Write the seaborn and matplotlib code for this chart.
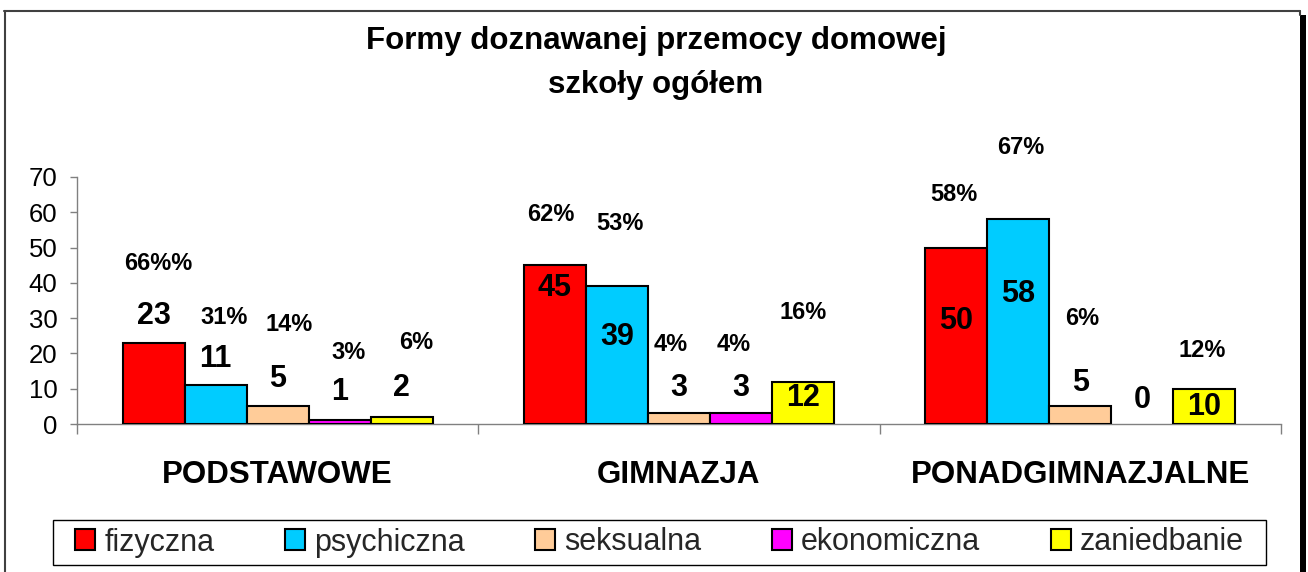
import matplotlib
matplotlib.use("Agg")
import matplotlib.pyplot as plt
from matplotlib.patches import Patch, Rectangle
from matplotlib.lines import Line2D
import seaborn as sns
import pandas as pd

# --- data -------------------------------------------------------------
schools = ["PODSTAWOWE", "GIMNAZJA", "PONADGIMNAZJALNE"]
forms = ["fizyczna", "psychiczna", "seksualna", "ekonomiczna", "zaniedbanie"]

fizyczna = [23, 45, 50]
psychiczna = [11, 39, 58]
seksualna = [5, 3, 5]
ekonomiczna = [1, 3, 0]
zaniedbanie = [2, 12, 10]

pct_fizyczna = ["66%%", "62%", "58%"]
pct_psychiczna = ["31%", "53%", "67%"]
pct_seksualna = ["14%", "4%", "6%"]
pct_ekonomiczna = ["3%", "4%", ""]
pct_zaniedbanie = ["6%", "16%", "12%"]

y_ticks = [0, 10, 20, 30, 40, 50, 60, 70]

title_lines = ["Formy doznawanej przemocy domowej", "szkoły ogółem"]

# --- styling / layout ----------------------------------------------------
colors = ["#FF0000", "#00CCFF", "#FFCC99", "#FF00FF", "#FFFF00"]

# label offsets in pixels relative to the bar top (positive = upwards)
value_dy = [
    [27, -23, -73],
    [26, -51, -75],
    [27, 25, 23],
    [28, 25, 24],
    [29, -16, -18],
]
pct_dy = [
    [79, 51, 53],
    [68, 63, 72],
    [82, 69, 88],
    [68, 69, 0],
    [74, 69, 38],
]
pct_dx = [
    [5, -4, -2],
    [8, 3, 2],
    [11, -8, 2],
    [9, -7, 0],
    [14, 0, -2],
]

series = [fizyczna, psychiczna, seksualna, ekonomiczna, zaniedbanie]
pct_series = [pct_fizyczna, pct_psychiczna, pct_seksualna, pct_ekonomiczna, pct_zaniedbanie]

rows = []
for form, vals in zip(forms, series):
    for school, v in zip(schools, vals):
        rows.append({"szkoła": school, "forma": form, "liczba": v})
df = pd.DataFrame(rows)

sns.set_theme(style="white")
plt.rcParams["font.family"] = ["Liberation Sans", "DejaVu Sans"]

W, H = 1308, 572
fig = plt.figure(figsize=(W / 100, H / 100), dpi=100)
fig.patch.set_facecolor("white")

ax_left, ax_right, ax_top, ax_bottom = 77, 1281, 177, 424
ax = fig.add_axes([ax_left / W, 1 - ax_bottom / H,
                   (ax_right - ax_left) / W, (ax_bottom - ax_top) / H])

sns.barplot(data=df, x="szkoła", y="liczba", hue="forma",
            order=schools, hue_order=forms, palette=colors, saturation=1,
            width=0.773, edgecolor="black", linewidth=1.5,
            legend=False, ax=ax, zorder=3)

ax.set_xlim(-0.5, 2.5)
ax.set_ylim(0, 70)
ax.set_yticks(y_ticks)
ax.set_xlabel("")
ax.set_ylabel("")

for side in ["top", "right"]:
    ax.spines[side].set_visible(False)
for side in ["left", "bottom"]:
    ax.spines[side].set_color("#808080")
    ax.spines[side].set_linewidth(1.0)

ax.tick_params(axis="y", which="major", direction="out", length=5, width=1,
               color="#808080", labelsize=18.5, labelcolor="black", pad=9, left=True)
ax.set_xticks([0, 1, 2])
ax.set_xticklabels(schools, fontsize=22.5, fontweight="bold", color="black")
ax.tick_params(axis="x", which="major", length=0, pad=26)
ax.set_xticks([-0.5, 0.5, 1.5, 2.5], minor=True)
ax.tick_params(axis="x", which="minor", direction="out", length=7, width=1,
               color="#808080", bottom=True)

# bar annotations
for i, cont in enumerate(ax.containers):
    for j, bar in enumerate(cont.patches):
        h = bar.get_height()
        if h == 0:
            bar.set_linewidth(0)
        cx = bar.get_x() + bar.get_width() / 2
        ax.annotate(f"{series[i][j]}", xy=(cx, h), xytext=(0, value_dy[i][j]),
                    textcoords="offset pixels", ha="center", va="center",
                    fontsize=22, fontweight="bold", color="black", zorder=5)
        if pct_series[i][j]:
            ax.annotate(pct_series[i][j], xy=(cx, h),
                        xytext=(pct_dx[i][j], pct_dy[i][j]),
                        textcoords="offset pixels", ha="center", va="center",
                        fontsize=17, fontweight="bold", color="black",
                        annotation_clip=False, zorder=5)

# title
fig.text(656 / W, 1 - 49 / H, title_lines[0], ha="center", va="baseline",
         fontsize=22.5, fontweight="bold", color="black")
fig.text(656 / W, 1 - 93 / H, title_lines[1], ha="center", va="baseline",
         fontsize=22.5, fontweight="bold", color="black")

# legend with a framed box
box_l, box_r, box_t, box_b = 53, 1266, 520, 565
fig.add_artist(Rectangle((box_l / W, 1 - box_b / H), (box_r - box_l) / W,
                         (box_b - box_t) / H, transform=fig.transFigure,
                         facecolor="white", edgecolor="black", linewidth=1.0))
handles = [Patch(facecolor=c, edgecolor="black", linewidth=1.5) for c in colors]
fig.legend(handles, forms, loc="center", ncol=5,
           bbox_to_anchor=((box_l + box_r) / 2 / W, 1 - (box_t + box_b) / 2 / H),
           frameon=False, fontsize=22, handlelength=0.66, handleheight=0.66,
           handletextpad=0.3, columnspacing=2.3, borderpad=0, borderaxespad=0)

# chart frame with a shadow on the right
fig.add_artist(Line2D([4 / W, 1300 / W], [1 - 11 / H, 1 - 11 / H],
                      transform=fig.transFigure, color="#404040", linewidth=1.5))
fig.add_artist(Line2D([4.5 / W, 4.5 / W], [1 - 11 / H, 0],
                      transform=fig.transFigure, color="#404040", linewidth=1.5))
fig.add_artist(Line2D([1300 / W, 1300 / W], [1 - 11 / H, 1 - 15 / H],
                      transform=fig.transFigure, color="#404040", linewidth=1.5))
fig.add_artist(Rectangle((1300 / W, 0), 6 / W, 1 - 15 / H,
                         transform=fig.transFigure, facecolor="black",
                         edgecolor="none"))

fig.savefig("out.png", dpi=100, facecolor="white")
